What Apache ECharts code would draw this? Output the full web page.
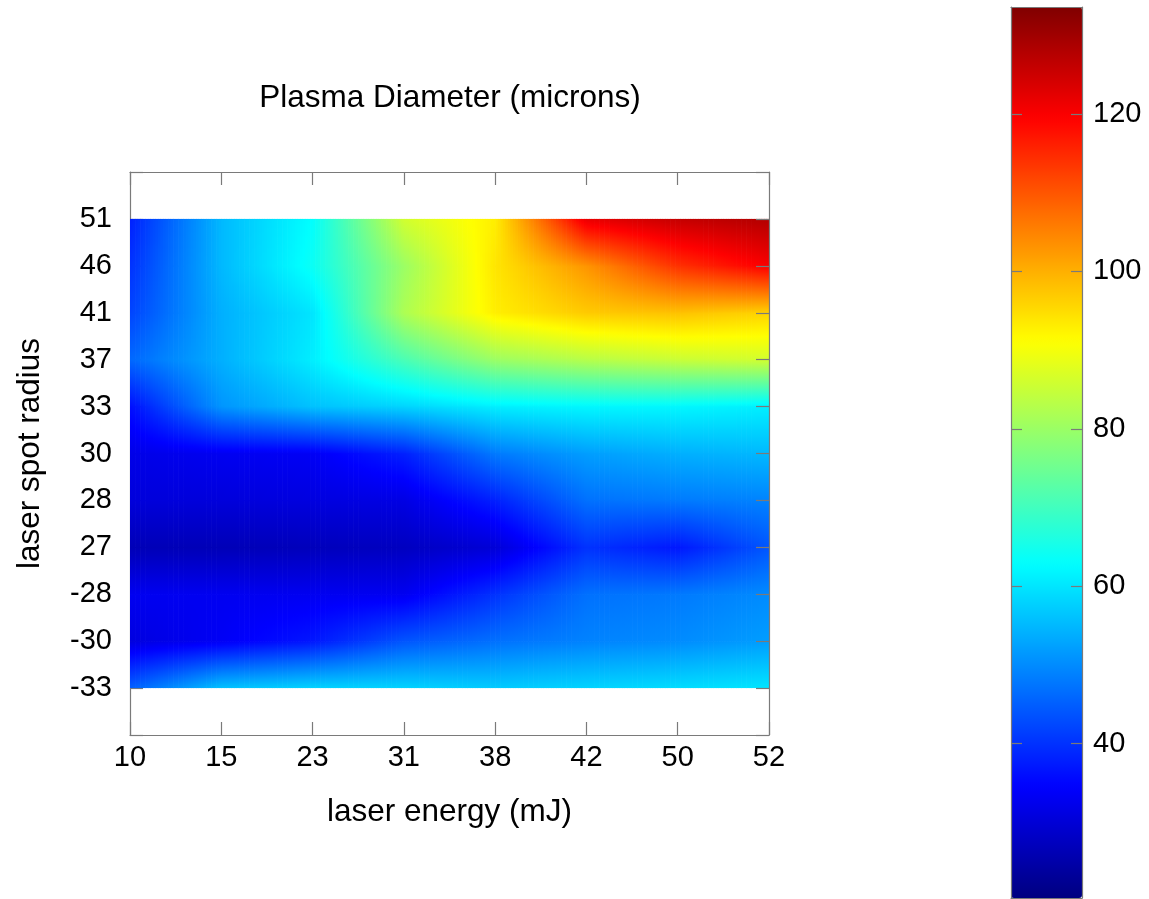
<!DOCTYPE html>
<html>
<head>
<meta charset="utf-8">
<title>Plasma Diameter</title>
<script src="https://cdn.jsdelivr.net/npm/echarts@6/dist/echarts.min.js"></script>
<style>
  html, body { margin: 0; padding: 0; background: #ffffff; }
  #chart { width: 1149px; height: 899px; }
</style>
</head>
<body>
<div id="chart"></div>
<script>
// Axis tick labels
const energyLabels = ['10', '15', '23', '31', '38', '42', '50', '52'];
const radiusLabels = ['51', '46', '41', '37', '33', '30', '28', '27', '-28', '-30', '-33'];

// Plasma diameter (microns): one array per laser spot radius row (top to bottom),
// one value per laser energy column (left to right)
const row51  = [38, 55, 63, 86, 93, 122, 126, 128];
const row46  = [40, 55, 64, 80, 94, 103, 114, 120];
const row41  = [42, 54, 60, 82, 93, 97, 98, 96];
const row37  = [46, 54, 61, 71, 80, 83, 85, 86];
const row33  = [36, 51, 56, 58, 61, 62, 62, 61];
const row30  = [32, 33, 33.5, 38, 48, 52, 54, 55];
const row28  = [30.5, 30.5, 31, 31.5, 38, 47, 48, 49];
const row27  = [26.5, 26.5, 27, 27.5, 30, 40, 37, 44];
const rowM28 = [33, 33, 33, 33, 40, 47, 48, 50];
const rowM30 = [31, 33.5, 37, 44, 47, 49, 50, 52];
const rowM33 = [45, 56, 58, 58, 57, 58, 59, 60];

// Colour limits of the colour bar
const colorMin = 20.4;
const colorMax = 133.6;
const colorBarTicks = [40, 60, 80, 100, 120];

const rows = [row51, row46, row41, row37, row33, row30, row28, row27, rowM28, rowM30, rowM33];

// jet colour map, stops evenly spaced
const jetStops = ['#000080', '#0000ff', '#0080ff', '#00ffff', '#80ff80',
                  '#ffff00', '#ff8000', '#ff0000', '#800000'];
function jet(v) {
  let t = (v - colorMin) / (colorMax - colorMin);
  t = Math.max(0, Math.min(1, t));
  return echarts.color.lerp(t, jetStops);
}

// grid points: [energy index, row position (1-based), value]
const points = [];
rows.forEach((r, ri) => r.forEach((v, ei) => points.push([ei, ri + 1, v])));

const FONT = '"Liberation Sans", Arial, Helvetica, sans-serif';
const AXIS_GRAY = '#7a7a7a';
const STRIPS = 36;   // vertical strips per cell for interpolated shading
const STOPS = 12;    // gradient stops per strip

function renderCell(params, api) {
  const e = api.value(0);
  const r = api.value(1) - 1;
  if (e >= energyLabels.length - 1 || r >= radiusLabels.length - 1) return;
  const p0 = api.coord([e, r + 1]);
  const p1 = api.coord([e + 1, r + 2]);
  const v00 = rows[r][e], v10 = rows[r][e + 1];
  const v01 = rows[r + 1][e], v11 = rows[r + 1][e + 1];
  const w = (p1[0] - p0[0]) / STRIPS;
  const h = p1[1] - p0[1];
  const lastCol = e === energyLabels.length - 2;
  const lastRow = r === radiusLabels.length - 2;
  const children = [];
  for (let k = 0; k < STRIPS; k++) {
    const f = (k + 0.5) / STRIPS;
    const top = v00 + (v10 - v00) * f;
    const bot = v01 + (v11 - v01) * f;
    const colorStops = [];
    for (let s = 0; s <= STOPS; s++) {
      const u = s / STOPS;
      colorStops.push({ offset: u, color: jet(top + (bot - top) * u) });
    }
    children.push({
      type: 'rect',
      silent: true,
      shape: {
        x: p0[0] + k * w,
        y: p0[1],
        width: w + ((lastCol && k === STRIPS - 1) ? 0 : 0.7),
        height: h + (lastRow ? 0 : 0.7)
      },
      style: {
        fill: { type: 'linear', x: 0, y: 0, x2: 0, y2: 1, colorStops: colorStops }
      }
    });
  }
  return { type: 'group', children: children };
}

const tickLabelStyle = { color: '#000', fontSize: 29, fontFamily: FONT };
const nameStyle = { color: '#000', fontSize: 31.5, fontFamily: FONT };
const lineStyle = { color: AXIS_GRAY, width: 1.2 };
const boxLine = { show: true, onZero: false, lineStyle: lineStyle };
const inTicks = (len) => ({ show: true, inside: true, length: len, lineStyle: lineStyle });

const chart = echarts.init(document.getElementById('chart'), null, { renderer: 'canvas' });
chart.setOption({
  animation: false,
  backgroundColor: '#ffffff',
  title: {
    text: 'Plasma Diameter (microns)',
    left: 445,
    top: 77,
    textAlign: 'center',
    textStyle: { color: '#000', fontSize: 31.5, fontWeight: 'normal', fontFamily: FONT }
  },
  grid: [
    { left: 130, top: 172, width: 639, height: 563 },
    { left: 1011, top: 7, width: 71, height: 891 }
  ],
  xAxis: [
    {
      gridIndex: 0, type: 'category', data: energyLabels, boundaryGap: false, position: 'bottom',
      axisLine: boxLine,
      axisTick: inTicks(13),
      axisLabel: Object.assign({ margin: 8 }, tickLabelStyle),
      splitLine: { show: false },
      name: 'laser energy (mJ)', nameLocation: 'middle', nameGap: 61,
      nameTextStyle: nameStyle
    },
    {
      gridIndex: 0, type: 'category', data: energyLabels, boundaryGap: false, position: 'top',
      axisLine: boxLine,
      axisTick: inTicks(13),
      axisLabel: { show: false }, splitLine: { show: false }
    },
    {
      gridIndex: 1, type: 'value', min: 0, max: 1, position: 'bottom', z: 10,
      axisLine: boxLine, axisTick: { show: false },
      axisLabel: { show: false }, splitLine: { show: false }
    },
    {
      gridIndex: 1, type: 'value', min: 0, max: 1, position: 'top', z: 10,
      axisLine: boxLine, axisTick: { show: false },
      axisLabel: { show: false }, splitLine: { show: false }
    }
  ],
  yAxis: [
    {
      gridIndex: 0, type: 'value', min: 0, max: radiusLabels.length + 1, interval: 1,
      inverse: true, position: 'left',
      axisLine: boxLine,
      axisTick: inTicks(13),
      axisLabel: Object.assign({
        margin: 18,
        formatter: (v) => radiusLabels[v - 1] || ''
      }, tickLabelStyle),
      splitLine: { show: false },
      name: 'laser spot radius', nameLocation: 'middle', nameGap: 84, nameRotate: 90,
      nameTextStyle: nameStyle
    },
    {
      gridIndex: 0, type: 'value', min: 0, max: radiusLabels.length + 1, interval: 1,
      inverse: true, position: 'right', z: 10,
      axisLine: boxLine,
      axisTick: inTicks(13),
      axisLabel: { show: false }, splitLine: { show: false }
    },
    {
      gridIndex: 1, type: 'value', min: colorMin, max: colorMax, position: 'right', z: 10,
      axisLine: boxLine,
      axisTick: Object.assign(inTicks(11), { customValues: colorBarTicks }),
      axisLabel: Object.assign({ margin: 11, customValues: colorBarTicks }, tickLabelStyle),
      splitLine: { show: false }
    },
    {
      gridIndex: 1, type: 'value', min: colorMin, max: colorMax, position: 'left', z: 10,
      axisLine: boxLine,
      axisTick: Object.assign(inTicks(11), { customValues: colorBarTicks }),
      axisLabel: { show: false }, splitLine: { show: false }
    }
  ],
  visualMap: {
    type: 'continuous',
    min: colorMin, max: colorMax,
    seriesIndex: 0, dimension: 2,
    orient: 'vertical',
    left: 1011, top: 7,
    itemWidth: 71, itemHeight: 891,
    padding: 0,
    calculable: false,
    hoverLink: false,
    text: null,
    inRange: { color: jetStops }
  },
  series: [
    {
      type: 'custom',
      xAxisIndex: 0, yAxisIndex: 0,
      encode: { x: 0, y: 1 },
      clip: true,
      silent: true,
      data: points,
      renderItem: renderCell
    }
  ]
});
</script>
</body>
</html>
